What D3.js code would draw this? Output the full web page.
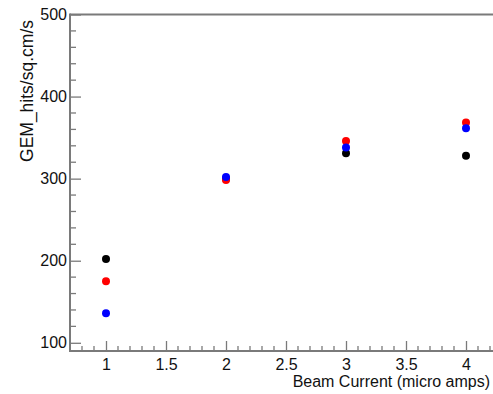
<!DOCTYPE html>
<html><head><meta charset="utf-8">
<script src="https://cdnjs.cloudflare.com/ajax/libs/d3/7.8.5/d3.min.js"></script>
<style>body{margin:0;background:#fff}svg{display:block}text{font-family:"Liberation Sans",Arial,sans-serif}</style>
</head><body><svg id="c" width="493" height="394"></svg>
<script>
const xValues = [1, 2, 3, 4];
const blackSeries = [202, 300, 331, 328];
const redSeries = [175, 298.5, 346, 368.5];
const blueSeries = [136, 302, 338, 361.5];
const xTicks = [1, 1.5, 2, 2.5, 3, 3.5, 4];
const yTicks = [100, 200, 300, 400, 500];
const xTitle = "Beam Current (micro amps)";
const yTitle = "GEM_hits/sq.cm/s";

(function () {
const svg = d3.select("#c");
const pLeft = 70, pRight = 502, pTop = 14.5, pBottom = 351;
const x = d3.scaleLinear().domain([0.7, 4.3]).range([pLeft, pRight]);
const y = d3.scaleLinear().domain([90, 500]).range([pBottom, pTop]);
const axisColor = "#7a7a7a";

svg.append("line").attr("x1", pLeft).attr("x2", 493).attr("y1", pTop).attr("y2", pTop)
  .attr("stroke", axisColor).attr("stroke-width", 2);

const xMinor = d3.range(8, 43).map(d => d / 10).filter(d => !xTicks.includes(d));
const yMinor = d3.range(100, 501, 20).filter(d => !yTicks.includes(d));

const gx = svg.append("g").attr("transform", `translate(0,${pBottom})`);
gx.selectAll("line.minor").data(xMinor).join("line")
  .attr("x1", d => x(d)).attr("x2", d => x(d)).attr("y1", 0).attr("y2", -5)
  .attr("stroke", axisColor).attr("stroke-width", 1.3);
gx.call(d3.axisBottom(x).tickValues(xTicks).tickSize(-10).tickPadding(7.5).tickFormat(d3.format("")));
gx.select(".domain").attr("d", `M${pLeft},0H493`).attr("stroke", axisColor).attr("stroke-width", 2);
gx.selectAll(".tick line").attr("stroke", axisColor).attr("stroke-width", 1.3);
gx.selectAll(".tick text").attr("font-size", 16).attr("fill", "#111").attr("font-family", "Liberation Sans, Arial, sans-serif");

const gy = svg.append("g").attr("transform", `translate(${pLeft},0)`);
gy.selectAll("line.minor").data(yMinor).join("line")
  .attr("x1", 0).attr("x2", 6).attr("y1", d => y(d)).attr("y2", d => y(d))
  .attr("stroke", axisColor).attr("stroke-width", 1.3);
gy.call(d3.axisLeft(y).tickValues(yTicks).tickSize(-11).tickPadding(3).tickFormat(d3.format("")));
gy.select(".domain").attr("d", `M0,${pTop - 1}V${pBottom + 1}`).attr("stroke", axisColor).attr("stroke-width", 2);
gy.selectAll(".tick line").attr("stroke", axisColor).attr("stroke-width", 1.3);
gy.selectAll(".tick text").attr("font-size", 16).attr("fill", "#111").attr("font-family", "Liberation Sans, Arial, sans-serif");

svg.append("text").attr("x", 490).attr("y", 387).attr("text-anchor", "end")
  .attr("font-size", 16).attr("fill", "#111").text(xTitle);
svg.append("text").attr("transform", "translate(32.5,20) rotate(-90)").attr("text-anchor", "end")
  .attr("font-size", 17.5).attr("fill", "#111").text(yTitle);

const series = [
  { name: "black", color: "#000000", values: blackSeries },
  { name: "red", color: "#ff0000", values: redSeries },
  { name: "blue", color: "#0000ff", values: blueSeries }
];
series.forEach(s => {
  svg.append("g").selectAll("circle").data(xValues.map((xv, i) => [xv, s.values[i]])).join("circle")
    .attr("cx", d => x(d[0])).attr("cy", d => y(d[1])).attr("r", 4).attr("fill", s.color);
});
})();
</script></body></html>
